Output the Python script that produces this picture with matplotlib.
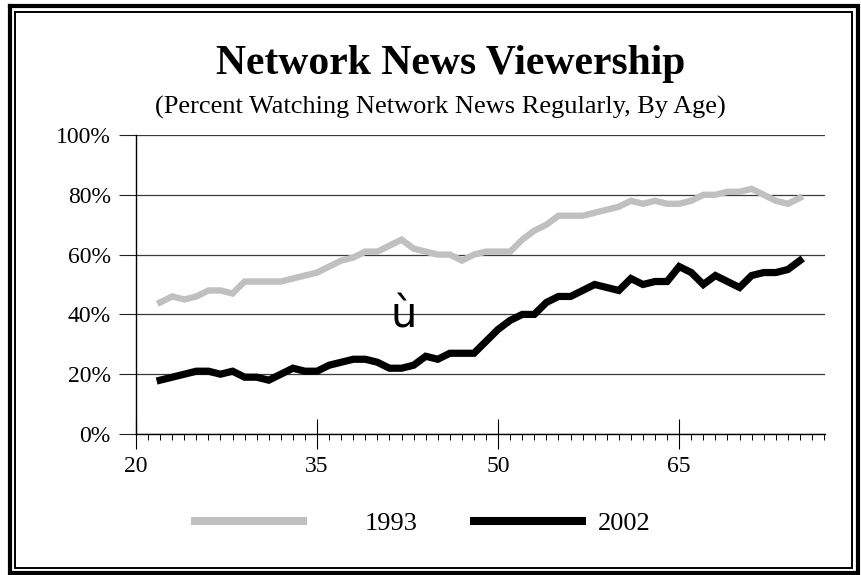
import matplotlib
matplotlib.use('Agg')
from matplotlib import pyplot as plt
from matplotlib.lines import Line2D
from matplotlib.ticker import FixedLocator, FuncFormatter

# Percent of each age group watching network news regularly.
ages = list(range(22, 76))
viewers_1993 = [44, 46, 45, 46, 48, 48, 47, 51, 51, 51, 51, 52,
                53, 54, 56, 58, 59, 61, 61, 63, 65, 62,
                61, 60, 60, 58, 60, 61, 61, 61, 65, 68, 70, 73,
                73, 73, 74, 75, 76, 78, 77, 78, 77, 77, 78,
                80, 80, 81, 81, 82, 80, 78, 77, 79]
viewers_2002 = [18, 19, 20, 21, 21, 20, 21, 19, 19, 18, 20, 22,
                21, 21, 23, 24, 25, 25, 24, 22, 22, 23,
                26, 25, 27, 27, 27, 31, 35, 38, 40, 40, 44, 46,
                46, 48, 50, 49, 48, 52, 50, 51, 51, 56, 54,
                50, 53, 51, 49, 53, 54, 54, 55, 58]
years = ['1993', '2002']
colors = ['#c0c0c0', '#000000']
age_ticks = [20, 35, 50, 65]
pct_ticks = [0, 20, 40, 60, 80, 100]

serif = 'Liberation Serif'
W, H = 861, 575

fig = plt.figure(figsize=(W / 100, H / 100), dpi=100)

def px(x, y):
    return x / W, 1 - y / H

# plot area in pixels: x 136..825, y 135..434
ax = fig.add_axes([136 / W, (H - 434) / H, (825 - 136) / W, (434 - 135) / H])
ax.plot(ages, viewers_1993, color=colors[0], lw=4.6, solid_joinstyle='miter')
ax.plot(ages, viewers_2002, color=colors[1], lw=5.2, solid_joinstyle='miter')

ax.set_xlim(20, 77.08)
ax.set_ylim(0, 100)
ax.set_facecolor('white')
for side in ['top', 'right']:
    ax.spines[side].set_visible(False)
ax.spines['left'].set_linewidth(1.0)
ax.spines['bottom'].set_linewidth(1.0)

ax.yaxis.set_major_locator(FixedLocator(pct_ticks))
ax.yaxis.set_major_formatter(FuncFormatter(lambda v, p: '%d%%' % v))
ax.grid(axis='y', color='#3a3a3a', lw=0.9)
ax.set_axisbelow(True)
ax.tick_params(axis='y', direction='out', length=12.2, width=0.8, pad=6,
               labelsize=17, color='#222222')

ax.xaxis.set_major_locator(FixedLocator(age_ticks))
ax.xaxis.set_minor_locator(FixedLocator([a for a in range(21, 78) if a not in age_ticks]))
ax.tick_params(axis='x', which='major', direction='inout', length=21, width=0.8,
               pad=5, labelsize=17)
ax.tick_params(axis='x', which='minor', direction='out', length=4.3, width=0.7)
for lab in ax.get_xticklabels() + ax.get_yticklabels():
    lab.set_family(serif)

# titles
fig.text(*px(451, 74), 'Network News Viewership', family=serif, weight='bold',
         fontsize=30, ha='center', va='baseline')
fig.text(*px(440, 114), '(Percent Watching Network News Regularly, By Age)',
         family=serif, fontsize=19, ha='center', va='baseline')

# stray symbol glyph
fig.text(*px(404, 327), 'ù', family='DejaVu Sans', fontsize=30,
         ha='center', va='baseline')

# legend, one entry per box
gaps = [2.2, 0.45]
starts = [191, 470]
for year, color, gap, x0 in zip(years, colors, gaps, starts):
    handle = Line2D([], [], color=color, lw=5.8, solid_capstyle='butt')
    leg = fig.legend([handle], [year], loc='center left',
                     bbox_to_anchor=px(x0, 523), bbox_transform=fig.transFigure,
                     frameon=False, borderpad=0, borderaxespad=0,
                     handlelength=4.4, handletextpad=gap,
                     prop={'family': serif, 'size': 19})

# double frame around the figure
def frame(x0, y0, x1, y1, lw):
    xs = [x0, x1, x1, x0, x0]
    ys = [y0, y0, y1, y1, y0]
    fig.add_artist(Line2D([x / W for x in xs], [1 - y / H for y in ys],
                          color='black', lw=lw, solid_joinstyle='miter'))

frame(10, 5.5, 857.5, 573, 3.0)
frame(14.5, 11.5, 852, 568, 1.4)

fig.savefig('out.png', dpi=100)
